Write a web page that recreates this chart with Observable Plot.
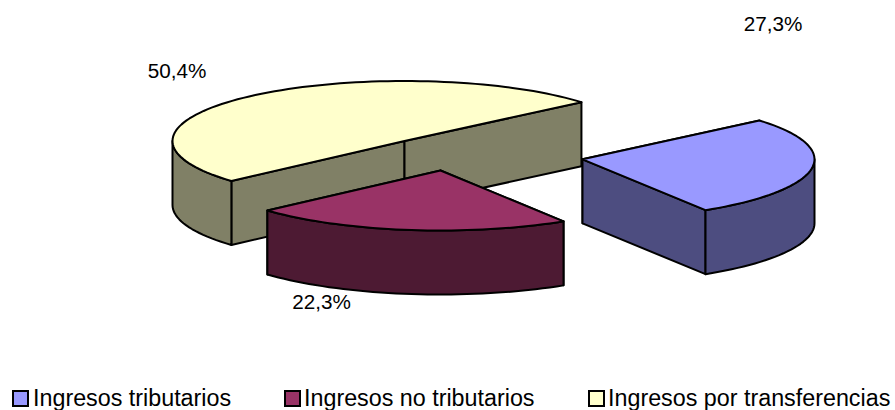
<!DOCTYPE html>
<html>
<head>
<meta charset="utf-8">
<script src="https://cdn.jsdelivr.net/npm/d3@7"></script>
<script src="https://cdn.jsdelivr.net/npm/@observablehq/plot@0.6"></script>
<style>
html,body{margin:0;padding:0;background:#fff;width:895px;height:410px;overflow:hidden}
#wrap{position:relative;width:895px;height:410px;font-family:"Liberation Sans",Arial,sans-serif;color:#000}
#legend{position:absolute;left:0;top:385px;width:895px;height:25px}
#legend .sw{position:absolute;top:5px;width:13px;height:13px;border:2px solid #000;box-sizing:content-box}
#legend .tx{position:absolute;top:1px;font-size:23.3px;line-height:25px;white-space:nowrap}
svg{display:block}
</style>
</head>
<body>
<div id="wrap"><div id="chart"></div><div id="legend"></div></div>
<script>
// Data
const categories = ["Ingresos tributarios", "Ingresos no tributarios", "Ingresos por transferencias"];
const shares = [27.3, 22.3, 50.4];
const topColors = ["#9999FF", "#993366", "#FFFFCC"];
const sideColors = ["#4D4D80", "#4D1A33", "#808066"];

// Layout of the 3D pie
const W = 895, H = 385;
const startAngle = -40.3, rx = 232, ry = 60, depth = 64;
const centerX = [582, 440, 404];
const centerY = [158.8, 170, 140.5];
const labelX = [772.5, 321, 176.5];
const labelY = [23.5, 302, 70.5];
const legendSwatchX = [12, 283.5, 587.5];
const legendTextX = [33, 304, 608];
const drawOrder = [2, 0, 1];

const rad = d => d * Math.PI / 180;
const arc = (i, a, b, dy = 0) => {
  const n = Math.max(2, Math.ceil(Math.abs(b - a) / 2));
  return d3.range(n + 1).map(k => {
    const t = rad(a + (b - a) * k / n);
    return [centerX[i] + rx * Math.cos(t), centerY[i] + dy + ry * Math.sin(t)];
  });
};

// Slice angle spans follow from the shares
const total = d3.sum(shares);
let acc = startAngle;
const spans = shares.map(v => { const a = acc; acc += v / total * 360; return [a, acc]; });

const polys = [];
let pid = 0;
const add = (pts, cat, kind) => {
  pid++;
  pts.forEach(p => polys.push({x: p[0], y: p[1], id: pid, cat, kind}));
};
for (const i of drawOrder) {
  const [a, b] = spans[i];
  const c = [centerX[i], centerY[i]];
  const cd = [centerX[i], centerY[i] + depth];
  const pa = arc(i, a, a)[0], pb = arc(i, b, b)[0];
  // cut faces
  add([c, pa, [pa[0], pa[1] + depth], cd], i, "side");
  add([c, pb, [pb[0], pb[1] + depth], cd], i, "side");
  // outer wall: only the part of the rim that faces the viewer
  const lo = Math.max(a, a < 0 ? 0 : a), hi = Math.min(b, 180);
  if (hi > lo) add([...arc(i, lo, hi), ...arc(i, hi, lo, depth)], i, "side");
  // top
  add([c, ...arc(i, a, b)], i, "top");
}

const labels = shares.map((v, i) => ({
  x: labelX[i], y: labelY[i], text: v.toFixed(1).replace(".", ",") + "%"
}));

const chart = Plot.plot({
  width: W, height: H,
  margin: 0,
  x: {domain: [0, W], range: [0, W], axis: null},
  y: {domain: [0, H], range: [0, H], axis: null},
  style: {background: "#fff", fontFamily: '"Liberation Sans",Arial,sans-serif'},
  marks: [
    ...d3.groups(polys, d => d.id).map(([id, pts]) =>
      Plot.line(pts, {
        x: "x", y: "y", z: null, curve: "linear-closed",
        fill: pts[0].kind === "top" ? topColors[pts[0].cat] : sideColors[pts[0].cat],
        stroke: "#000", strokeWidth: 2, strokeLinejoin: "round"
      })
    ),
    Plot.text(labels, {x: "x", y: "y", text: "text", fontSize: 20.7, fill: "#000"})
  ]
});
document.getElementById("chart").appendChild(chart);

const legend = document.getElementById("legend");
categories.forEach((c, i) => {
  const s = document.createElement("span");
  s.className = "sw"; s.style.left = legendSwatchX[i] + "px"; s.style.background = topColors[i];
  const t = document.createElement("span");
  t.className = "tx"; t.style.left = legendTextX[i] + "px"; t.textContent = c;
  legend.append(s, t);
});
</script>
</body>
</html>
